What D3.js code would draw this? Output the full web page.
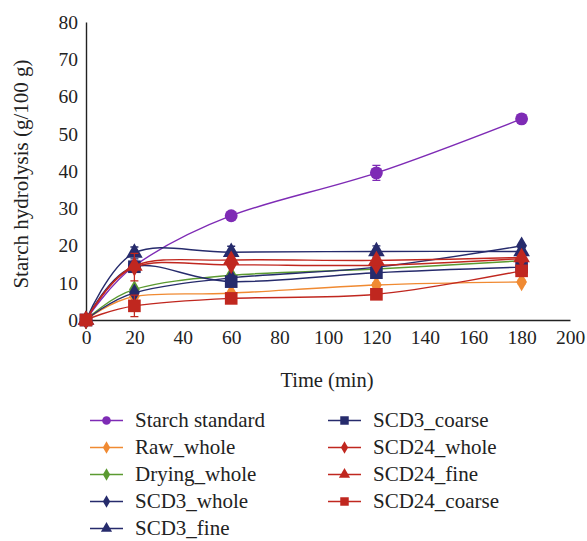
<!DOCTYPE html>
<html>
<head>
<meta charset="utf-8">
<script src="https://cdn.jsdelivr.net/npm/d3@7/dist/d3.min.js"></script>
<style>
  body { margin: 0; background: #fff; }
</style>
</head>
<body>
<div id="chart"></div>
<script>
"use strict";

/* Data */
const TIMES = [0, 20, 60, 120, 180];
const X_TICKS = [0, 20, 40, 60, 80, 100, 120, 140, 160, 180, 200];
const Y_TICKS = [0, 10, 20, 30, 40, 50, 60, 70, 80];

const NAMES = ["Starch standard", "Raw_whole", "Drying_whole", "SCD3_whole", "SCD3_fine",
  "SCD3_coarse", "SCD24_whole", "SCD24_fine", "SCD24_coarse"];
const COLORS = ["#7E2BB5", "#F08A32", "#5B9A31", "#262B6C", "#262B6C",
  "#262B6C", "#C0271F", "#C0271F", "#C0271F"];
const SHAPES = ["circle", "diamond", "diamond", "diamond", "triangle",
  "square", "diamond", "triangle", "square"];

const VALUES = [
  [0, 14.5, 28.0, 39.5, 54.0],   // Starch standard
  [0, 6.3, 7.2, 9.4, 10.2],      // Raw_whole
  [0, 8.2, 12.0, 13.7, 15.9],    // Drying_whole
  [0, 7.3, 11.3, 14.2, 19.9],    // SCD3_whole
  [0, 18.0, 18.2, 18.4, 18.4],   // SCD3_fine
  [0, 14.3, 10.3, 12.7, 14.2],   // SCD3_coarse
  [0, 14.2, 14.8, 14.7, 16.5],   // SCD24_whole
  [0, 14.5, 16.1, 16.0, 16.8],   // SCD24_fine
  [0, 3.8, 5.8, 6.9, 13.2]       // SCD24_coarse
];
const ERRORS = [
  [0, 0, 0.6, 2.0, 0.6],
  [0, 0, 0, 0.6, 0.5],
  [0, 0, 0, 0, 0],
  [0, 0, 0, 0, 0],
  [0, 1.6, 1.6, 1.5, 0],
  [0, 0, 0, 0, 0],
  [0, 3.7, 0, 0, 0],
  [0, 0, 0, 0, 0],
  [0, 2.9, 0.6, 0.6, 0.6]
];

const FONT = "'Liberation Serif', 'Times New Roman', serif";

const svg = d3.select("#chart")
  .append("svg")
  .attr("width", 587)
  .attr("height", 541)
  .attr("font-family", FONT);

const x = d3.scaleLinear().domain([0, 200]).range([86, 570]);
const y = d3.scaleLinear().domain([0, 80]).range([320, 22]);

/* axes: plain lines, no tick marks */
const xAxis = svg.append("g")
  .attr("transform", `translate(0,${y(0)})`)
  .call(d3.axisBottom(x).tickValues(X_TICKS).tickSize(0).tickPadding(10));
xAxis.attr("font-family", FONT).attr("font-size", 19.5);
xAxis.select(".domain").attr("stroke", "#222").attr("stroke-width", 1.4);
xAxis.selectAll("text").attr("fill", "#222");

const yAxis = svg.append("g")
  .attr("transform", `translate(${x(0)},0)`)
  .call(d3.axisLeft(y).tickValues(Y_TICKS).tickSize(0).tickPadding(8));
yAxis.attr("font-family", FONT).attr("font-size", 19.5);
yAxis.select(".domain").attr("stroke", "#222").attr("stroke-width", 1.4);
yAxis.selectAll("text").attr("fill", "#222");

svg.append("text")
  .attr("x", 327)
  .attr("y", 387)
  .attr("text-anchor", "middle")
  .attr("font-size", 20.5)
  .attr("fill", "#222")
  .text("Time (min)");

svg.append("text")
  .attr("transform", "translate(28,174) rotate(-90)")
  .attr("text-anchor", "middle")
  .attr("font-size", 21)
  .attr("fill", "#222")
  .text("Starch hydrolysis (g/100 g)");

const SYMBOLS = {
  circle: d3.symbolCircle,
  diamond: d3.symbolDiamond,
  triangle: d3.symbolTriangle,
  square: d3.symbolSquare
};
const SIZE = { circle: 130, diamond: 100, triangle: 120, square: 160 };

const line = d3.line()
  .x(d => x(d[0]))
  .y(d => y(d[1]))
  .curve(d3.curveCardinal.tension(0));

const plot = svg.append("g");

NAMES.forEach(function (name, i) {
  const pts = TIMES.map((t, j) => [t, VALUES[i][j], ERRORS[i][j]]);
  const g = plot.append("g");

  g.append("path")
    .datum(pts)
    .attr("d", line)
    .attr("fill", "none")
    .attr("stroke", COLORS[i])
    .attr("stroke-width", 1.4);

  // error bars
  g.selectAll(".err")
    .data(pts.filter(d => d[2] > 0))
    .enter()
    .append("path")
    .attr("d", function (d) {
      const cx = x(d[0]);
      const y1 = y(d[1] - d[2]);
      const y2 = y(d[1] + d[2]);
      return `M${cx - 4},${y1}H${cx + 4}M${cx},${y1}V${y2}M${cx - 4},${y2}H${cx + 4}`;
    })
    .attr("fill", "none")
    .attr("stroke", COLORS[i])
    .attr("stroke-width", 1.3);

  g.selectAll(".mark")
    .data(pts)
    .enter()
    .append("path")
    .attr("transform", d => `translate(${x(d[0])},${y(d[1])})`)
    .attr("d", d3.symbol().type(SYMBOLS[SHAPES[i]]).size(SIZE[SHAPES[i]]))
    .attr("fill", COLORS[i]);
});

/* legend in two columns */
const legend = svg.append("g");
NAMES.forEach(function (name, i) {
  const col = i < 5 ? 0 : 1;
  const row = i < 5 ? i : i - 5;
  const lx = col === 0 ? 90 : 328;
  const ly = 420.5 + row * 27;
  const item = legend.append("g").attr("transform", `translate(${lx},${ly})`);
  item.append("line")
    .attr("x1", 0).attr("x2", 33)
    .attr("stroke", COLORS[i])
    .attr("stroke-width", 1.4);
  item.append("path")
    .attr("transform", "translate(16.5,0)")
    .attr("d", d3.symbol().type(SYMBOLS[SHAPES[i]]).size(SIZE[SHAPES[i]] * 0.45))
    .attr("fill", COLORS[i]);
  item.append("text")
    .attr("x", 45)
    .attr("dy", "0.33em")
    .attr("font-size", 21)
    .attr("fill", "#222")
    .text(name);
});
</script>
</body>
</html>
